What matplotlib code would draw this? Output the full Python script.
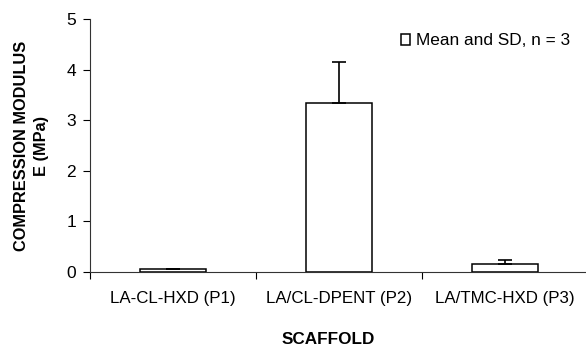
import matplotlib.pyplot as plt
import numpy as np

plt.rcParams['font.family'] = ['Liberation Sans', 'DejaVu Sans']

scaffolds = ["LA-CL-HXD (P1)", "LA/CL-DPENT (P2)", "LA/TMC-HXD (P3)"]
modulus = [0.05, 3.34, 0.16]
sd = [0.0, 0.81, 0.08]
yticks = [0, 1, 2, 3, 4, 5]

fig = plt.figure(figsize=(5.86, 3.46), dpi=100)
ax = fig.add_axes([90 / 586, 74 / 346, 498 / 586, 253 / 346])

x = np.arange(len(scaffolds))
ax.bar(x, modulus, width=0.4, color="white", edgecolor="black", linewidth=1.1,
       label="Mean and SD, n = 3", zorder=2)
ax.errorbar(x, modulus, yerr=[np.zeros(len(sd)), sd], fmt="none", ecolor="black",
            elinewidth=1.2, capsize=5, capthick=1.2, zorder=3)

ax.set_xlim(-0.5, 2.5)
ax.set_ylim(0, 5)
ax.set_yticks(yticks)
ax.set_yticklabels([str(t) for t in yticks], fontsize=12.5)
ax.set_xticks(x)
ax.set_xticklabels(scaffolds, fontsize=12.2)
ax.set_xticks([-0.5, 0.5, 1.5, 2.5], minor=True)
ax.tick_params(axis="x", which="major", length=0, pad=14)
ax.tick_params(axis="x", which="minor", length=5, width=0.8, direction="out")
ax.tick_params(axis="y", length=5, width=0.8, direction="out", pad=5)

for side in ["top", "right"]:
    ax.spines[side].set_visible(False)
for side in ["left", "bottom"]:
    ax.spines[side].set_color("#333333")
    ax.spines[side].set_linewidth(0.8)

ax.set_ylabel("COMPRESSION MODULUS\nE (MPa)", fontsize=11.8, fontweight="bold",
              linespacing=1.45)
ax.yaxis.set_label_coords(-41 / 498, 0.5)
ax.set_xlabel("SCAFFOLD", fontsize=12.3, fontweight="bold")
ax.xaxis.set_label_coords(238 / 498, -60 / 253)

ax.legend(loc="upper right", bbox_to_anchor=(0.977, 0.97), frameon=False, fontsize=12.4,
          handlelength=0.55, handleheight=0.55, handletextpad=0.3, borderaxespad=0)

plt.savefig("out.png", dpi=100, facecolor="white")
